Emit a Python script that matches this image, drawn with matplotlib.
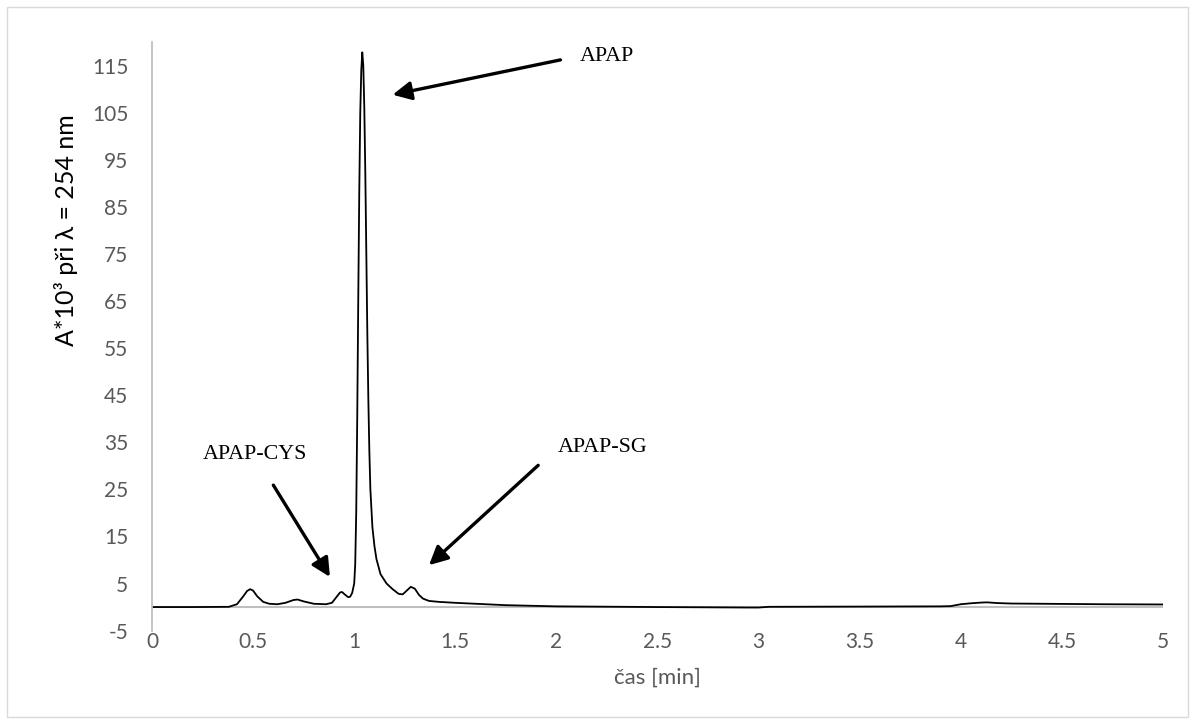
import matplotlib
matplotlib.use("Agg")
import matplotlib.pyplot as plt
from matplotlib.patches import Rectangle
from matplotlib.ticker import MultipleLocator, FormatStrFormatter

# chromatogram (time in min, absorbance *10^3)
cas = [0.0, 0.2, 0.38, 0.42, 0.45, 0.47, 0.485, 0.50, 0.52, 0.55, 0.58, 0.62,
       0.66, 0.70, 0.72, 0.75, 0.80, 0.86, 0.89, 0.91, 0.93, 0.94, 0.95, 0.97,
       0.98, 0.99, 1.0, 1.005, 1.01, 1.015, 1.02, 1.025, 1.03, 1.035, 1.04,
       1.045, 1.05, 1.055, 1.06, 1.065, 1.07, 1.075, 1.08, 1.09, 1.10, 1.11,
       1.13, 1.16, 1.19, 1.22, 1.24, 1.26, 1.28, 1.30, 1.32, 1.34, 1.37, 1.42,
       1.5, 1.6, 1.75, 2.0, 2.5, 2.95, 3.0, 3.05, 3.5, 3.9, 3.95, 4.0, 4.05,
       4.1, 4.13, 4.18, 4.25, 4.4, 4.7, 5.0]
absorbance = [0.0, 0.0, 0.05, 0.6, 2.2, 3.4, 3.8, 3.5, 2.3, 1.1, 0.7, 0.6,
              0.9, 1.5, 1.6, 1.2, 0.7, 0.6, 0.9, 2.0, 3.1, 3.2, 2.8, 2.1,
              2.2, 3.0, 5.0, 9.0, 20.0, 40.0, 65.0, 88.0, 105.0, 114.0, 117.8,
              115.0, 106.0, 92.0, 75.0, 58.0, 44.0, 33.0, 25.0, 17.0, 13.0, 10.2,
              7.0, 5.0, 3.8, 2.8, 2.7, 3.5, 4.3, 3.9, 2.6, 1.8, 1.3, 1.1,
              0.9, 0.7, 0.4, 0.15, 0.0, -0.1, -0.1, 0.05, 0.1, 0.15, 0.2, 0.6, 0.8,
              0.95, 1.0, 0.85, 0.75, 0.7, 0.6, 0.55]

# peak labels: text, text position, arrow tail and tip
peak_names = ["APAP", "APAP-CYS", "APAP-SG"]
text_pos = [(2.25, 116.9), (0.51, 32.3), (2.23, 33.9)]
tail_pos = [(2.02, 116.2), (0.60, 25.9), (1.91, 30.1)]
tip_pos = [(1.19, 108.8), (0.88, 6.4), (1.37, 8.9)]

grey = "#595959"
plt.rcParams["font.family"] = ["Lato", "DejaVu Sans"]
plt.rcParams["axes.unicode_minus"] = False

fig = plt.figure(figsize=(11.95, 7.24), dpi=100)
ax = fig.add_axes([0.1272, 0.129, 0.846, 0.813])

# chart border like the Excel chart area
fig.patches.append(Rectangle((0.006, 0.010), 0.988, 0.980, transform=fig.transFigure,
                             fill=False, edgecolor="#d9d9d9", lw=1.0))

ax.axhline(0, color="#bfbfbf", lw=1.5, zorder=1)
ax.plot(cas, absorbance, color="black", lw=1.3, zorder=2)

ax.set_xlim(0, 5)
ax.set_ylim(-5, 120)
ax.xaxis.set_major_locator(MultipleLocator(0.5))
ax.xaxis.set_major_formatter(FormatStrFormatter("%g"))
ax.set_yticks(range(-5, 120, 10))

for side in ["top", "right", "bottom"]:
    ax.spines[side].set_visible(False)
ax.spines["left"].set_color("#bfbfbf")
ax.spines["left"].set_linewidth(1.3)

ax.tick_params(axis="both", length=0, colors=grey, labelsize=15)
ax.tick_params(axis="y", pad=17)
ax.tick_params(axis="x", pad=1)

ax.set_xlabel("čas [min]", fontsize=16, color=grey)
ax.xaxis.set_label_coords(0.5, -0.08)
ax.xaxis.label.set_verticalalignment("center")
ax.set_ylabel("A*10³ při λ = 254 nm", fontsize=18, color="black")
ax.yaxis.set_label_coords(-0.085, 0.68)
ax.yaxis.label.set_verticalalignment("center")

for name, tpos, tail, tip in zip(peak_names, text_pos, tail_pos, tip_pos):
    ax.text(tpos[0], tpos[1], name, family="Liberation Serif", fontsize=15.8,
            ha="center", va="center", color="black")
    ax.annotate("", xy=tip, xytext=tail,
                arrowprops=dict(arrowstyle="-|>", color="black", lw=2.4,
                                mutation_scale=28, shrinkA=0, shrinkB=0))

fig.savefig("out.png", dpi=100)
